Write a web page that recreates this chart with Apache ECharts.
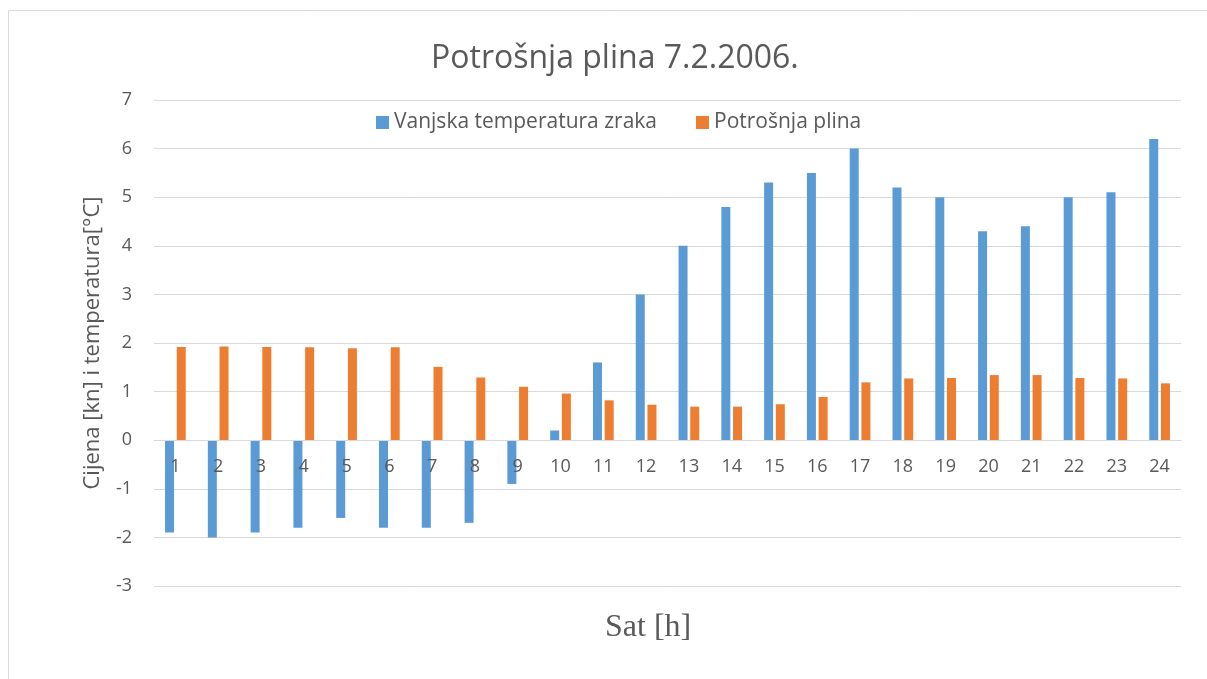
<!DOCTYPE html>
<html>
<head>
<meta charset="utf-8">
<script src="https://cdn.jsdelivr.net/npm/echarts@6/dist/echarts.min.js"></script>
<style>html,body{margin:0;padding:0;background:#fff;}#main{width:1207px;height:679px;}</style>
</head>
<body>
<div id="main"></div>
<script>
const categories = ['1','2','3','4','5','6','7','8','9','10','11','12','13','14','15','16','17','18','19','20','21','22','23','24'];
const temperatura = [-1.9,-2.0,-1.9,-1.8,-1.6,-1.8,-1.8,-1.7,-0.9,0.2,1.6,3.0,4.0,4.8,5.3,5.5,6.0,5.2,5.0,4.3,4.4,5.0,5.1,6.2];
const potrosnja = [1.92,1.93,1.92,1.91,1.89,1.91,1.51,1.29,1.10,0.96,0.82,0.73,0.69,0.69,0.74,0.89,1.19,1.27,1.28,1.34,1.34,1.28,1.27,1.17];
const yTicks = { min: -3, max: 7, interval: 1 };

const txt = '#595959';
const font = 'Open Sans';
const H = 679, gridTop = 100, gridBottom = 93;
const gridH = H - gridTop - gridBottom;
// shift category axis up to the zero line of the value axis
const zeroOffset = -gridH * (0 - yTicks.min) / (yTicks.max - yTicks.min);

const chart = echarts.init(document.getElementById('main'));
chart.setOption({
  animation: false,
  backgroundColor: '#fff',
  title: {
    text: 'Potrošnja plina 7.2.2006.',
    left: 426, top: 38,
    textStyle: { color: txt, fontFamily: font, fontWeight: 'normal', fontSize: 32 }
  },
  legend: {
    top: 107, left: 371,
    itemWidth: 13, itemHeight: 13, itemGap: 39,
    icon: 'rect',
    textStyle: { color: txt, fontFamily: font, fontSize: 21 },
    data: ['Vanjska temperatura zraka', 'Potrošnja plina']
  },
  grid: { left: 154, right: 26, top: gridTop, bottom: gridBottom, containLabel: false },
  graphic: [
    { type: 'rect', shape: { x: 8.5, y: 10.5, width: 1300, height: 800 }, style: { fill: 'none', stroke: '#d9d9d9', lineWidth: 1 }, silent: true },
    { type: 'text', left: 605, top: 612, style: { text: 'Sat [h]', fill: txt, font: '32px "Liberation Serif"' } }
  ],
  xAxis: {
    type: 'category', data: categories, position: 'bottom', offset: zeroOffset, zlevel: 1, z: 10,
    axisLine: { onZero: false, lineStyle: { color: '#d9d9d9', width: 1 } },
    axisTick: { show: false },
    axisLabel: { color: txt, fontFamily: font, fontSize: 18, margin: 18 },
    splitLine: { show: false }
  },
  yAxis: {
    type: 'value', min: yTicks.min, max: yTicks.max, interval: yTicks.interval,
    name: 'Cijena [kn] i temperatura[°C]', nameLocation: 'middle', nameGap: 50, nameRotate: 90,
    nameTextStyle: { color: txt, fontFamily: font, fontSize: 22 },
    axisLine: { show: false }, axisTick: { show: false },
    axisLabel: { color: txt, fontFamily: font, fontSize: 18, margin: 22 },
    splitLine: { lineStyle: { color: '#d9d9d9', width: 1 } }
  },
  series: [
    { name: 'Vanjska temperatura zraka', type: 'bar', data: temperatura, barWidth: 9, barGap: '30%',
      itemStyle: { color: '#5B9BD5' } },
    { name: 'Potrošnja plina', type: 'bar', data: potrosnja, barWidth: 9, barGap: '30%',
      itemStyle: { color: '#ED7D31' } }
  ]
});
</script>
</body>
</html>
